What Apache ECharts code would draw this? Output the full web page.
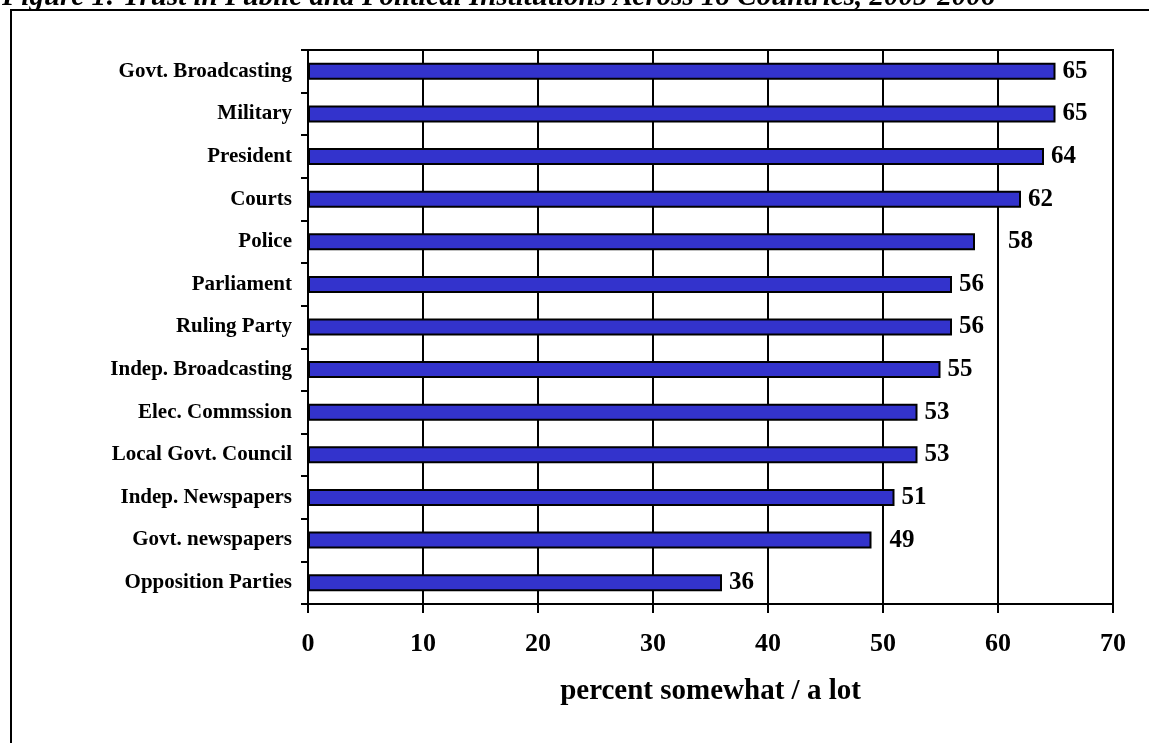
<!DOCTYPE html>
<html>
<head>
<meta charset="utf-8">
<script src="https://cdn.jsdelivr.net/npm/echarts@6/dist/echarts.min.js"></script>
<style>
html,body{margin:0;padding:0;background:#fff;}
#chart{width:1149px;height:743px;}
</style>
</head>
<body>
<div id="chart"></div>
<script>
const categories = ["Govt. Broadcasting","Military","President","Courts","Police","Parliament","Ruling Party","Indep. Broadcasting","Elec. Commssion","Local Govt. Council","Indep. Newspapers","Govt. newspapers","Opposition Parties"];
const values = [65,65,64,62,58,56,56,55,53,53,51,49,36];
const xTicks = [0,10,20,30,40,50,60,70];
const titleText = "Figure 1: Trust in Public and Political Institutions Across 18 Countries, 2005-2006";
const axisTitle = "percent somewhat / a lot";

// extra label spacing for a few manually-placed labels (style only)
const labelExtraGap = {"Police": 26, "Govt. newspapers": 11};

const FONT = "'Liberation Serif','Times New Roman',serif";
const chart = echarts.init(document.getElementById('chart'), null, {renderer:'canvas'});

const seriesData = values.map((v, i) => {
  const extra = labelExtraGap[categories[i]] || 0;
  return extra ? {value: v, label: {distance: 7 + extra}} : v;
});

chart.setOption({
  animation: false,
  backgroundColor: '#fff',
  graphic: [
    {type:'rect', silent:true, shape:{x:11, y:10, width:1400, height:1000},
     style:{fill:'none', stroke:'#000', lineWidth:2}},
    {type:'text', silent:true, x:2, y:12,
     style:{text:titleText, font:"italic bold 29px 'Liberation Serif','Times New Roman',serif",
            fill:'#000', verticalAlign:'bottom', align:'left'}}
  ],
  grid: {left:308, right:36, top:50, bottom:139, show:true, borderColor:'#000', borderWidth:2, containLabel:false},
  xAxis: {
    type:'value', min:0, max:70, interval:10,
    axisLine:{show:true, lineStyle:{color:'#000', width:2}},
    axisTick:{show:true, length:9, lineStyle:{color:'#000', width:2}},
    splitLine:{show:true, lineStyle:{color:'#000', width:2}},
    axisLabel:{margin:27, fontFamily:FONT, fontWeight:'bold', fontSize:26, color:'#000',
      formatter: v => xTicks.includes(v) ? String(v) : ''},
    name: axisTitle, nameLocation:'middle', nameGap:73,
    nameTextStyle:{fontFamily:FONT, fontWeight:'bold', fontSize:29, color:'#000'}
  },
  yAxis: {
    type:'category', data:categories, inverse:true,
    axisLine:{show:true, lineStyle:{color:'#000', width:2}},
    axisTick:{show:true, length:7, lineStyle:{color:'#000', width:2}},
    splitLine:{show:false},
    axisLabel:{margin:16, fontFamily:FONT, fontWeight:'bold', fontSize:21, color:'#000'}
  },
  series: [{
    type:'bar', data:seriesData, barWidth:17,
    itemStyle:{color:'#3333cc', borderColor:'#000', borderWidth:2},
    label:{show:true, position:'right', distance:7, fontFamily:FONT, fontWeight:'bold', fontSize:25, color:'#000'}
  }]
});
</script>
</body>
</html>
